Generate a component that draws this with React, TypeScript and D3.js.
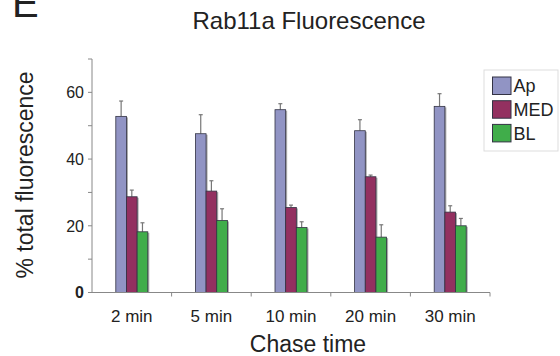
import * as d3 from 'd3';
import { useEffect, useRef } from 'react';

const WIDTH = 560, HEIGHT = 356;

const categories = ['2 min', '5 min', '10 min', '20 min', '30 min'];
const seriesNames = ['Ap', 'MED', 'BL'];
const apValues = [52.8, 47.6, 54.8, 48.5, 55.8];
const apErrors = [4.6, 5.7, 1.8, 3.3, 3.8];
const medValues = [28.7, 30.4, 25.5, 34.7, 24.1];
const medErrors = [2.0, 3.1, 0.7, 0.5, 1.9];
const blValues = [18.2, 21.6, 19.5, 16.6, 20.0];
const blErrors = [2.7, 3.5, 1.7, 3.7, 2.2];
const yTicks = [0, 10, 20, 30, 40, 50, 60, 70];
const yLabels = [0, 20, 40, 60];

const colors = ['#9194c4', '#933060', '#40ad4a'];
const FONT = '"Liberation Sans", Arial, Helvetica, sans-serif';

const margin = { left: 92, right: 70, top: 59, bottom: 63.5 };

const App = () => {
    const ref = useRef(null);

    useEffect(() => {
        const svg = d3.select(ref.current);
        svg.selectAll('*').remove();

        const x = d3.scaleBand().domain(categories).range([margin.left, WIDTH - margin.right]);
        const y = d3.scaleLinear().domain([0, 70]).range([HEIGHT - margin.bottom, margin.top]);
        const groupW = 32;
        const xSub = d3.scaleBand().domain(seriesNames).range([0, groupW]);

        const series = [
            { name: 'Ap', values: apValues, errors: apErrors },
            { name: 'MED', values: medValues, errors: medErrors },
            { name: 'BL', values: blValues, errors: blErrors },
        ];

        // panel letter (cut at the top, as in the figure)
        svg.append('text').attr('x', 12).attr('y', 17).attr('font-size', 40)
            .attr('font-family', FONT).attr('fill', '#222').text('E');

        // title
        svg.append('text').attr('x', 309).attr('y', 29).attr('text-anchor', 'middle')
            .attr('font-size', 24)
            .attr('font-family', FONT).attr('fill', '#222').text('Rab11a Fluorescence');

        // bars
        series.forEach((s, si) => {
            const g = svg.append('g');
            s.values.forEach((v, i) => {
                const bx = x(categories[i]) + (x.bandwidth() - groupW) / 2 + xSub(s.name);
                const bw = xSub.bandwidth();
                // shadow
                g.append('rect').attr('x', bx + 1.5).attr('y', y(v) + 1).attr('width', bw)
                    .attr('height', y(0) - y(v) - 1).attr('fill', '#aaa');
                // error bar
                const et = y(v + s.errors[i]);
                g.append('line').attr('x1', bx + bw / 2).attr('x2', bx + bw / 2)
                    .attr('y1', y(v)).attr('y2', et).attr('stroke', '#777').attr('stroke-width', 1.2);
                g.append('line').attr('x1', bx + bw / 2 - 2).attr('x2', bx + bw / 2 + 2)
                    .attr('y1', et).attr('y2', et).attr('stroke', '#777').attr('stroke-width', 1.2);
                g.append('rect').attr('x', bx).attr('y', y(v)).attr('width', bw)
                    .attr('height', y(0) - y(v)).attr('fill', colors[si])
                    .attr('stroke', '#333344').attr('stroke-width', 0.8);
            });
        });

        // y axis
        const ya = svg.append('g');
        ya.append('line').attr('x1', margin.left).attr('x2', margin.left)
            .attr('y1', y(70)).attr('y2', y(0)).attr('stroke', '#888');
        yTicks.forEach(t => {
            ya.append('line').attr('x1', margin.left - 4).attr('x2', margin.left)
                .attr('y1', y(t)).attr('y2', y(t)).attr('stroke', '#888');
        });
        yLabels.forEach(t => {
            ya.append('text').attr('x', margin.left - 8).attr('y', y(t)).attr('dy', '0.36em')
                .attr('text-anchor', 'end').attr('font-size', 16).attr('font-family', FONT)
                .attr('font-weight', t === 0 ? 'bold' : 'normal')
                .attr('fill', '#222').text(t);
        });

        // x axis
        const xa = svg.append('g');
        xa.append('line').attr('x1', margin.left).attr('x2', WIDTH - margin.right)
            .attr('y1', y(0)).attr('y2', y(0)).attr('stroke', '#888');
        categories.forEach(c => {
            const tx = x(c) + x.bandwidth();
            xa.append('line').attr('x1', tx).attr('x2', tx)
                .attr('y1', y(0)).attr('y2', y(0) + 4).attr('stroke', '#888');
            xa.append('text').attr('x', x(c) + x.bandwidth() / 2).attr('y', 321.5)
                .attr('text-anchor', 'middle').attr('font-size', 17).attr('font-family', FONT)
                .attr('fill', '#222').text(c);
        });

        // axis titles
        svg.append('text').attr('x', 308).attr('y', 352).attr('text-anchor', 'middle')
            .attr('font-size', 23).attr('font-family', FONT).attr('fill', '#222').text('Chase time');
        svg.append('text').attr('transform', 'translate(33,175) rotate(-90)')
            .attr('text-anchor', 'middle').attr('font-size', 23).attr('font-family', FONT)
            .attr('fill', '#222').text('% total fluorescence');

        // legend
        const lg = svg.append('g');
        lg.append('rect').attr('x', 484).attr('y', 70).attr('width', 74).attr('height', 81)
            .attr('fill', 'white').attr('stroke', '#ddd');
        seriesNames.forEach((n, i) => {
            const ly = 77 + i * 23.7;
            lg.append('rect').attr('x', 492.5).attr('y', ly).attr('width', 18.5).attr('height', 17.5)
                .attr('fill', colors[i]).attr('stroke', '#333344').attr('stroke-width', 1);
            lg.append('text').attr('x', 513.5).attr('y', ly + 9).attr('dy', '0.36em')
                .attr('font-size', 18).attr('font-family', FONT).attr('fill', '#222').text(n);
        });
    }, []);

    return (
        <svg ref={ref} width={WIDTH} height={HEIGHT}
            style={{ position: 'absolute', left: 0, top: 0, background: 'white' }} />
    );
};

export default App;
